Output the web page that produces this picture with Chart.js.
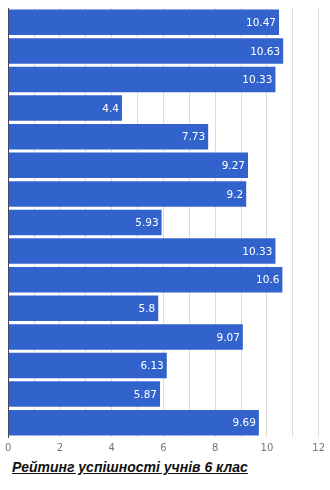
<!DOCTYPE html>
<html>
<head>
<meta charset="utf-8">
<script src="https://cdn.jsdelivr.net/npm/chart.js"></script>
<style>
  body { margin: 0; background: #fff; }
  #wrap { width: 330px; height: 459px; position: relative; }
  #title {
    position: absolute; left: 12px; top: 459px;
    font: italic bold 14px "Liberation Sans", sans-serif;
    text-decoration: underline; color: #111; white-space: nowrap;
  }
</style>
</head>
<body>
<div id="wrap"><canvas id="ratingChart"></canvas></div>
<div id="title">Рейтинг успішності учнів 6 клас</div>
<script>
const students = ['1', '2', '3', '4', '5', '6', '7', '8', '9', '10', '11', '12', '13', '14', '15'];
const scores = [10.47, 10.63, 10.33, 4.4, 7.73, 9.27, 9.2, 5.93, 10.33, 10.6, 5.8, 9.07, 6.13, 5.87, 9.69];
const xTicks = [0, 2, 4, 6, 8, 10, 12];

// values drawn inside the end of each bar
const barValues = {
    id: 'barValues',
    afterDatasetsDraw(chart) {
        const ctx = chart.ctx;
        const meta = chart.getDatasetMeta(0);
        ctx.save();
        ctx.font = '10.5px "DejaVu Sans", sans-serif';
        ctx.fillStyle = '#ffffff';
        ctx.textAlign = 'right';
        ctx.textBaseline = 'middle';
        meta.data.forEach((bar, i) => {
            ctx.fillText(String(scores[i]), bar.x - 3, bar.y + 1);
        });
        ctx.restore();
    }
};

new Chart(document.getElementById('ratingChart'), {
    type: 'bar',
    data: {
        labels: students,
        datasets: [{
            data: scores,
            backgroundColor: '#3263cc',
            borderWidth: 0,
            barPercentage: 0.89,
            categoryPercentage: 1
        }]
    },
    options: {
        indexAxis: 'y',
        responsive: true,
        maintainAspectRatio: false,
        animation: false,
        layout: { padding: { left: 8, right: 4, top: 8, bottom: 0 } },
        plugins: {
            legend: { display: false },
            tooltip: { enabled: false }
        },
        scales: {
            x: {
                min: 0,
                max: 12,
                ticks: {
                    stepSize: 1,
                    autoSkip: false,
                    maxRotation: 0,
                    color: '#777',
                    font: { size: 10, family: '"DejaVu Sans", sans-serif' },
                    padding: 5,
                    callback: v => xTicks.includes(v) ? String(v) : ''
                },
                grid: { color: '#dcdcdc', drawTicks: false },
                border: { display: false }
            },
            y: {
                ticks: { display: false },
                grid: { display: false },
                border: { display: true, color: '#444', width: 1 },
                afterFit: s => { s.width = 0; }
            }
        }
    },
    plugins: [barValues]
});
</script>
</body>
</html>
